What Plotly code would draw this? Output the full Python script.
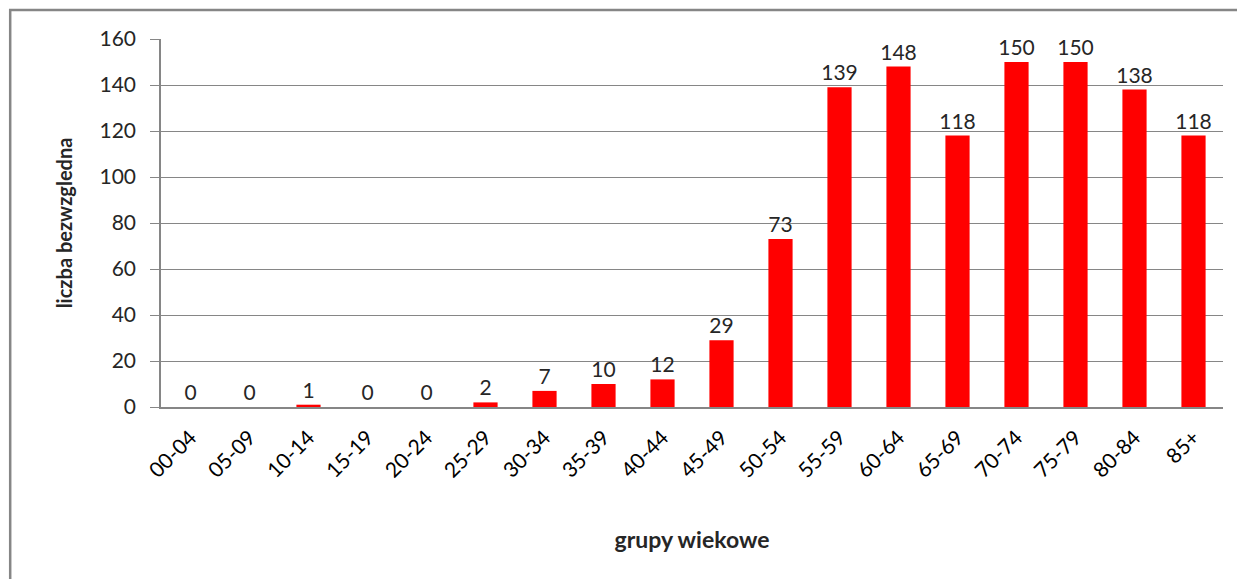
import plotly.graph_objects as go

categories = ["00-04", "05-09", "10-14", "15-19", "20-24", "25-29", "30-34", "35-39", "40-44",
              "45-49", "50-54", "55-59", "60-64", "65-69", "70-74", "75-79", "80-84", "85+"]
values = [0, 0, 1, 0, 0, 2, 7, 10, 12, 29, 73, 139, 148, 118, 150, 150, 138, 118]
y_ticks = [0, 20, 40, 60, 80, 100, 120, 140, 160]

FONT = "Lato, 'Open Sans', sans-serif"
GRID = "#868686"

fig = go.Figure(go.Bar(
    x=categories, y=values,
    marker=dict(color="#ff0000", line=dict(width=0)),
    text=[str(v) for v in values], textposition="outside", constraintext="none",
    textfont=dict(family=FONT, size=21, color="#262626"),
    cliponaxis=False,
))

fig.update_layout(
    width=1245, height=579,
    margin=dict(l=153, r=30, t=31, b=180),
    paper_bgcolor="white", plot_bgcolor="white",
    bargap=0.59, showlegend=False,
    font=dict(family=FONT, color="#262626"),
    shapes=[dict(type="rect", xref="paper", yref="paper",
                 x0=-0.142, x1=1.2, y0=-0.7, y1=1.079,
                 line=dict(color=GRID, width=2.5), fillcolor="rgba(0,0,0,0)", layer="below")],
)
fig.update_yaxes(
    range=[0, 160], tickvals=y_ticks, showgrid=True, gridcolor=GRID, gridwidth=1.2,
    showline=True, linecolor=GRID, linewidth=1.5, ticks="outside", ticklen=9, tickcolor=GRID,
    ticklabelstandoff=10,
    tickfont=dict(family=FONT, size=21, color="#262626"), zeroline=False,
    title=dict(text="<b>liczba bezwzgledna</b>", font=dict(family=FONT, size=20, color="#262626"), standoff=22),
)
fig.update_xaxes(
    type="category",
    showline=True, linecolor=GRID, linewidth=2, tickangle=-45, ticks="",
    ticklabelstandoff=8,
    tickfont=dict(family=FONT, size=21, color="#000000"),
    title=dict(text="<b>grupy wiekowe</b>", font=dict(family=FONT, size=23, color="#262626"), standoff=51),
)

fig.write_html("out.html")
